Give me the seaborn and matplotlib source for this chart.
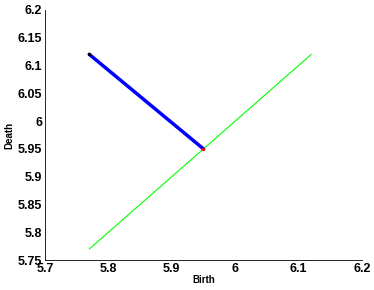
import matplotlib
matplotlib.use("Agg")
import matplotlib.pyplot as plt
import seaborn as sns
import pandas as pd

sns.set_style("white")
plt.rcParams['font.family'] = ['Liberation Sans', 'DejaVu Sans']
plt.rcParams['text.color'] = 'black'
plt.rcParams['axes.labelcolor'] = 'black'
plt.rcParams['xtick.color'] = 'black'
plt.rcParams['ytick.color'] = 'black'

birth_path = [5.77, 5.95]
death_path = [6.12, 5.95]
diag_x = [5.77, 6.12]
diag_y = [5.77, 6.12]
xticks = [5.7, 5.8, 5.9, 6.0, 6.1, 6.2]
yticks = [5.75, 5.8, 5.85, 5.9, 5.95, 6.0, 6.05, 6.1, 6.15, 6.2]
xticklabels = ['5.7', '5.8', '5.9', '6', '6.1', '6.2']
yticklabels = ['5.75', '5.8', '5.85', '5.9', '5.95', '6', '6.05', '6.1', '6.15', '6.2']

fig = plt.figure(figsize=(3.74, 2.9), dpi=100)
ax = fig.add_axes([0.120, 0.103, 0.848, 0.863])

sns.lineplot(x=diag_x, y=diag_y, ax=ax, color='#00ff00', linewidth=0.8, estimator=None, sort=False)
sns.lineplot(x=birth_path, y=death_path, ax=ax, color='#0000ff', linewidth=2.5, estimator=None, sort=False)
ax.scatter([birth_path[0]], [death_path[0]], color='black', s=6, zorder=5, linewidths=0)
ax.scatter([birth_path[-1]], [death_path[-1]], color='red', s=6, zorder=5, linewidths=0)

ax.set_xlim(5.7, 6.2)
ax.set_ylim(5.75, 6.2)
ax.set_xticks(xticks)
ax.set_xticklabels(xticklabels, fontsize=9, fontweight='bold')
ax.set_yticks(yticks)
ax.set_yticklabels(yticklabels, fontsize=9, fontweight='bold')
ax.tick_params(direction='in', length=3, width=0.6, pad=2, colors='black')
ax.set_xlabel('Birth', fontsize=7, fontweight='bold', labelpad=0)
ax.set_ylabel('Death', fontsize=7, fontweight='bold', labelpad=2)
for s in ['top', 'right']:
    ax.spines[s].set_visible(False)
for s in ['left', 'bottom']:
    ax.spines[s].set_color('black')
    ax.spines[s].set_linewidth(0.6)

fig.savefig('out.png', dpi=100)
